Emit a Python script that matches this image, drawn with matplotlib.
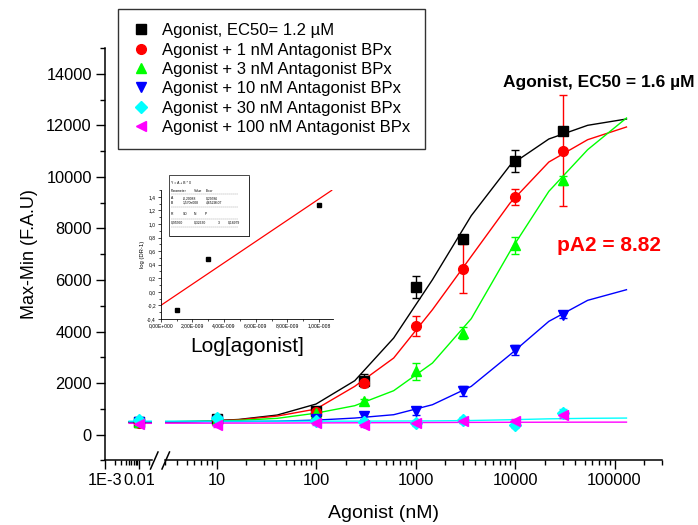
import matplotlib
matplotlib.use("Agg")
import matplotlib.pyplot as plt
import numpy as np
from matplotlib.lines import Line2D
from matplotlib.patches import Rectangle
from matplotlib.ticker import FixedLocator, FixedFormatter, LogLocator, FuncFormatter, MultipleLocator, NullFormatter

plt.rcParams['font.family'] = ['Liberation Sans', 'DejaVu Sans']

# ---------------- data ----------------
conc = [0.01, 10, 100, 300, 1000, 3000, 10000, 30000]          # agonist, nM

agonist      = [480, 620, 900, 2090, 5730, 7590, 10630, 11770]
agonist_err  = [60, 80, 100, 250, 420, 120, 430, 150]
bpx1         = [450, 600, 880, 2000, 4220, 6440, 9230, 11020]
bpx1_err     = [50, 100, 80, 120, 400, 950, 320, 2150]
bpx3         = [470, 560, 830, 1290, 2450, 3940, 7340, 9870]
bpx3_err     = [50, 60, 80, 100, 340, 245, 320, 180]
bpx10        = [490, 520, 620, 710, 920, 1680, 3270, 4630]
bpx10_err    = [50, 60, 80, 120, 150, 200, 200, 100]
bpx30        = [560, 640, 520, 480, 450, 570, 360, 830]
bpx30_err    = [60, 80, 80, 100, 100, 120, 100, 150]
bpx100       = [420, 380, 440, 380, 440, 530, 510, 750]
bpx100_err   = [50, 80, 80, 100, 80, 100, 100, 120]

# fitted dose-response curves (vertices of the fit polyline)
fit_conc = [0.0051, 0.0126, 0.031, 0.076, 0.186, 0.457, 1.12, 2.75, 6.76, 16.6,
            40.7, 100, 245, 603, 1479, 3631, 8913, 21878, 53703, 131826]
fit_agonist = [478, 478, 478, 478, 479, 480, 482, 490, 515, 585,
               757, 1184, 2090, 3747, 6011, 8497, 10452, 11475, 12006, 12251]
fit_bpx1    = [468, 468, 468, 468, 469, 470, 472, 480, 505, 570,
               718, 990, 1871, 2970, 4847, 6918, 8989, 10581, 11448, 11941]
fit_bpx3    = [488, 488, 488, 488, 489, 490, 492, 498, 515, 550,
               629, 830, 1120, 1702, 2776, 4498, 7113, 9443, 11060, 12290]
fit_bpx10   = [492, 492, 492, 492, 492, 493, 494, 496, 500, 505,
               520, 560, 640, 770, 1158, 1871, 3100, 4395, 5211, 5623]
fit_bpx30   = [520, 520, 520, 520, 520, 520, 520, 520, 520, 520,
               520, 520, 520, 525, 530, 545, 575, 610, 630, 640]
fit_bpx100  = [435, 435, 435, 435, 436, 437, 438, 440, 442, 445,
               448, 452, 457, 462, 467, 472, 476, 479, 481, 482]

series = [
    ("Agonist, EC50= 1.2 \u00b5M",            agonist, agonist_err, fit_agonist, "#000000", "s", 6.5),
    ("Agonist + 1 nM Antagonist BPx",        bpx1,    bpx1_err,    fit_bpx1,    "#FF0000", "o", 7),
    ("Agonist + 3 nM Antagonist BPx",        bpx3,    bpx3_err,    fit_bpx3,    "#00FF00", "^", 7.5),
    ("Agonist + 10 nM Antagonist BPx",       bpx10,   bpx10_err,   fit_bpx10,   "#0000FF", "v", 7.5),
    ("Agonist + 30 nM Antagonist BPx",       bpx30,   bpx30_err,   fit_bpx30,   "#00FFFF", "D", 6),
    ("Agonist + 100 nM Antagonist BPx",      bpx100,  bpx100_err,  fit_bpx100,  "#FF00FF", "<", 7.5),
]

# Schild plot inset
schild_x = [1e-9, 3e-9, 1e-8]
schild_y = [-0.27, 0.49, 1.28]
schild_A = -0.20088
schild_B = 1.570e8
schild_fit_x = [0.0, 1.08e-8]

# ---------------- layout ----------------
W, H = 698, 525
fig = plt.figure(figsize=(W / 100, H / 100), dpi=100)


def rect(x0, y0, x1, y1):
    return [x0 / W, 1 - y1 / H, (x1 - x0) / W, (y1 - y0) / H]


ax_l = fig.add_axes(rect(105, 48.2, 152, 460.3))
ax_r = fig.add_axes(rect(164.5, 48.2, 662, 460.3))

for ax in (ax_l, ax_r):
    ax.set_xscale("log")
    ax.set_ylim(-1000, 15000)
    ax.spines["top"].set_visible(False)
    ax.spines["right"].set_visible(False)
    for s in ("left", "bottom"):
        ax.spines[s].set_linewidth(1.1)
    ax.tick_params(which="major", direction="out", length=6.5, width=1.0, labelsize=11.8, pad=3)
    ax.tick_params(which="minor", direction="out", length=3.5, width=1.0)
    ax.set_facecolor("none")

ax_l.set_xlim(1e-3, 0.024)
ax_r.set_xlim(3, 3e5)

# y axis only on the left segment
ax_l.yaxis.set_major_locator(MultipleLocator(2000))
ax_l.yaxis.set_minor_locator(MultipleLocator(1000))
ax_l.yaxis.set_major_formatter(FuncFormatter(lambda v, p: f"{int(v)}" if v >= 0 else ""))
ax_r.spines["left"].set_visible(False)
ax_r.tick_params(axis="y", which="both", left=False, labelleft=False)

# x ticks: low segment
ax_l.xaxis.set_major_locator(FixedLocator([1e-3, 1e-2]))
ax_l.xaxis.set_major_formatter(FixedFormatter(["1E-3", "0.01"]))
ax_l.xaxis.set_minor_locator(FixedLocator([k * 1e-3 for k in range(2, 10)] + [0.02]))
ax_l.xaxis.set_minor_formatter(NullFormatter())

# x ticks: main segment
ax_r.xaxis.set_major_locator(FixedLocator([10, 100, 1000, 10000, 100000]))
ax_r.xaxis.set_major_formatter(FixedFormatter(["10", "100", "1000", "10000", "100000"]))
ax_r.xaxis.set_minor_locator(LogLocator(base=10, subs=np.arange(2, 10), numticks=20))
ax_r.xaxis.set_minor_formatter(NullFormatter())

for label, y, e, fit, col, mk, ms in series:
    for ax in (ax_l, ax_r):
        ax.plot(fit_conc, fit, color=col, lw=1.0, zorder=2, clip_on=True)
        ax.errorbar(conc, y, yerr=e, fmt=mk, color=col, ms=ms, mec=col, mfc=col,
                    elinewidth=1.0, capsize=3, capthick=1.0, zorder=3, clip_on=True)

ax_l.set_ylabel("Max-Min (F.A.U)", fontsize=13, labelpad=6)
fig.text(383 / W, 1 - 513 / H, "Agonist (nM)", fontsize=14, ha="center", va="center")

# axis break marks
for x0 in (150.5, 162):
    fig.add_artist(Line2D([x0 / W, (x0 + 7.5) / W], [1 - 469 / H, 1 - 452 / H],
                          transform=fig.transFigure, color="black", lw=1.1))

# legend
handles = [Line2D([], [], ls="none", marker=mk, color=col, mfc=col, mec=col, ms=ms)
           for label, y, e, fit, col, mk, ms in series]
labels = [s[0] for s in series]
leg = fig.legend(handles, labels, loc="upper left", bbox_to_anchor=(118 / W, 1 - 9 / H),
                 fontsize=12, frameon=True, fancybox=False, edgecolor="black",
                 borderpad=0.85, handlelength=1.0, handletextpad=0.8, labelspacing=0.26,
                 borderaxespad=0)
leg.get_frame().set_linewidth(1.0)

# annotations
fig.text(503 / W, 1 - 87 / H, "Agonist, EC50 = 1.6 \u00b5M", fontsize=12.5, fontweight="bold",
         ha="left", va="baseline")
fig.text(557 / W, 1 - 251 / H, "pA2 = 8.82", fontsize=15, fontweight="bold", color="#FF0000",
         ha="left", va="baseline")

# ---------------- Schild inset ----------------
ins = fig.add_axes(rect(160.7, 190, 333.3, 319))
ins.set_facecolor("none")
ins.set_xlim(0, 1.09e-8)
ins.set_ylim(-0.4, 1.5)
ins.spines["top"].set_visible(False)
ins.spines["right"].set_visible(False)
for s in ("left", "bottom"):
    ins.spines[s].set_linewidth(0.6)
ins.xaxis.set_major_locator(MultipleLocator(2e-9))
ins.xaxis.set_minor_locator(MultipleLocator(1e-9))
ins.yaxis.set_major_locator(MultipleLocator(0.2))
ins.yaxis.set_minor_locator(MultipleLocator(0.1))


def sci_fmt(v, p):
    if abs(v) < 1e-20:
        return "0,00E+000"
    exp = int(np.floor(np.log10(abs(v)) + 1e-9))
    man = v / 10 ** exp
    sign = "-" if exp < 0 else "+"
    return f"{man:.2f}".replace(".", ",") + f"E{sign}{abs(exp):03d}"


ins.xaxis.set_major_formatter(FuncFormatter(sci_fmt))
ins.yaxis.set_major_formatter(FuncFormatter(lambda v, p: f"{v:.1f}".replace(".", ",").replace("-0,0", "0,0")))
ins.tick_params(which="major", direction="out", length=2.2, width=0.5, labelsize=3.6, pad=1.2)
ins.tick_params(which="minor", direction="out", length=1.3, width=0.5)
ins.set_ylabel("log (DR-1)", fontsize=4.2, labelpad=1.5)

fit_line_y = [schild_A + schild_B * x for x in schild_fit_x]
ins.plot(schild_fit_x, fit_line_y, color="#FF0000", lw=0.9, zorder=2)
ins.plot(schild_x, schild_y, ls="none", marker="s", ms=2.6, color="black", zorder=3)

fig.text(247.5 / W, 1 - 347 / H, "Log[agonist]", fontsize=15, ha="center", va="center")

# regression results box
fig.add_artist(Rectangle((170 / W, 1 - 237 / H), 80 / W, 60 / H, transform=fig.transFigure,
                         facecolor="#444444", edgecolor="none", zorder=4))
fig.add_artist(Rectangle((168.5 / W, 1 - 235.5 / H), 80 / W, 60 / H, transform=fig.transFigure,
                         facecolor="white", edgecolor="black", lw=0.5, zorder=5))
box_rows = [
    (183.3, [(171, "Y = A + B * X")]),
    (190.7, [(171, "Parameter"), (194, "Value"), (206, "Error")]),
    (198.3, [(171, "A"), (183, "-0,20088"), (206, "0,29586")]),
    (202.7, [(171, "B"), (183, "1,570e008"), (206, "4,6529E07")]),
    (214.3, [(171, "R"), (183, "SD"), (194, "N"), (205, "P")]),
    (222.7, [(171, "0,95560"), (194, "0,32630"), (217.5, "3"), (228, "0,18979")]),
]
for yy, cells in box_rows:
    for xx, txt in cells:
        fig.text(xx / W, 1 - yy / H, txt, fontsize=2.4, ha="left", va="center", zorder=6)
for yy in (194.5, 207.3, 219.3, 227.3):
    fig.add_artist(Line2D([171 / W, 238 / W], [1 - yy / H, 1 - yy / H], transform=fig.transFigure,
                          color="#777777", lw=0.3, ls=(0, (1, 0.6)), zorder=6))

fig.savefig("out.png", dpi=100)
